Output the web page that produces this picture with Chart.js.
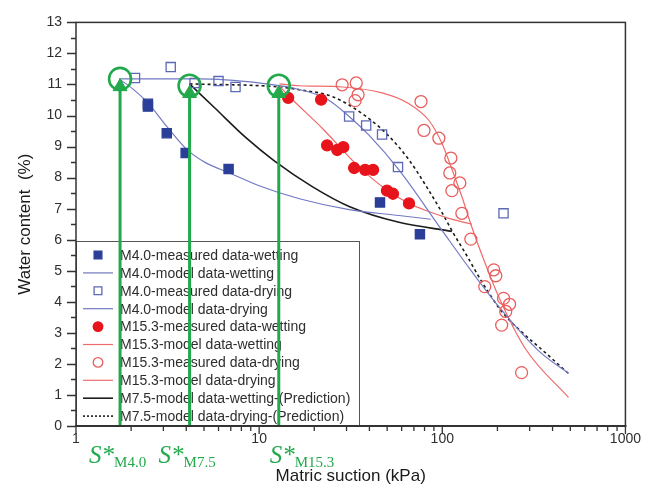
<!DOCTYPE html>
<html>
<head>
<meta charset="utf-8">
<script src="https://cdn.jsdelivr.net/npm/chart.js@4.4.0/dist/chart.umd.min.js"></script>
<style>
    html, body { margin: 0; padding: 0; background: #fff; }
</style>
</head>
<body>
<canvas id="grafica" width="646" height="490"></canvas>
<script>
//-------------------------------------------------DATOS-----------------------------------------------------
const ejeXTicks = [1, 10, 100, 1000]
const ejeYMax = 13

// M4.0 medidos
const m40HumX = [2.47, 2.47, 3.13, 3.97, 6.81, 45.7, 75.5]
const m40HumY = [10.38, 10.29, 9.43, 8.79, 8.28, 7.20, 6.18]
const m40SecX = [2.10, 3.29, 4.44, 6.0, 7.43, 31.0, 38.4, 46.9, 57.3, 216]
const m40SecY = [11.21, 11.56, 11.05, 11.11, 10.92, 9.97, 9.68, 9.39, 8.34, 6.85]
// M4.0 modelo
const m40ModHumX = [1.72, 2.04, 2.47, 3.13, 4.01, 5.04, 6.89, 10, 16.6, 31.0, 58.0, 86.6]
const m40ModHumY = [11.18, 10.86, 10.41, 9.65, 8.92, 8.50, 8.15, 7.74, 7.32, 6.97, 6.78, 6.66]
const m40ModSecX = [1.72, 4.73, 10, 15.2, 23.3, 31.0, 39.9, 58.0, 99.5, 145, 203, 336, 489]
const m40ModSecY = [11.18, 11.18, 11.05, 10.89, 10.54, 9.97, 9.36, 8.25, 6.31, 4.97, 3.85, 2.42, 1.69]

// M15.3 medidos
const m153HumX = [14.4, 21.8, 23.5, 26.7, 28.8, 33.0, 37.9, 41.9, 49.9, 53.8, 65.8]
const m153HumY = [10.57, 10.51, 9.04, 8.89, 8.98, 8.31, 8.25, 8.25, 7.58, 7.48, 7.17]
const m153SecX = [28.4, 33.9, 34.7, 33.4, 76.5, 79.4, 95.8, 111.4, 109.9, 124.7, 112.8, 127.9, 143.2, 191, 196, 170.6, 216, 233, 222, 211, 271]
const m153SecY = [10.99, 11.05, 10.67, 10.48, 10.45, 9.52, 9.27, 8.63, 8.15, 7.83, 7.58, 6.85, 6.02, 5.03, 4.84, 4.49, 4.11, 3.92, 3.69, 3.25, 1.72]
// M15.3 modelo
const m153ModHumX = [12.9, 14.3, 22.1, 35.2, 51.2, 65.8, 81.4, 108.6, 145]
const m153ModHumY = [10.96, 10.67, 9.59, 8.34, 7.55, 7.17, 6.94, 6.69, 6.50]
const m153ModSecX = [12.9, 16.6, 28.4, 46.9, 65.8, 84.6, 99.5, 112.8, 127.9, 143.2, 162.2, 203, 285, 489]
const m153ModSecY = [11.02, 10.96, 10.92, 10.73, 10.38, 9.84, 9.11, 8.28, 7.39, 6.50, 5.61, 4.17, 2.48, 0.92]

// M7.5 prediccion
const m75HumX = [4.17, 5.71, 8.53, 12.1, 19.5, 31.0, 58.0, 112.8]
const m75HumY = [11.02, 10.25, 9.27, 8.54, 7.71, 7.07, 6.56, 6.27]
const m75SecX = [4.17, 12.9, 16.6, 25.1, 38.4, 51.2, 65.8, 81.4, 99.5, 115.7, 134.5, 164.3, 211, 271, 336, 489]
const m75SecY = [11.02, 10.92, 10.83, 10.61, 9.97, 9.33, 8.57, 7.74, 6.88, 6.18, 5.54, 4.65, 3.69, 3.03, 2.55, 1.69]

// S* (flechas verdes)
const sEtiquetas = ['M4.0', 'M7.5', 'M15.3']
const sX = [1.74, 4.17, 12.8]
const sY = [11.18, 10.96, 10.96]
const flechaY = [10.93, 10.71, 10.71]

//-------------------------------------------------ESTILOS-----------------------------------------------------
const azulOscuro = '#2b3f98'
const azulClaro = '#5d68b6'
const azulLinea = '#7279c2'
const rojo = '#e8141c'
const rojoClaro = '#ea5d5d'
const rojoLinea = '#ef6b6b'
const negro = '#1c1c1c'
const verde = '#22a94c'
const gris = '#2e2e2e'

Chart.defaults.font.family = "'Liberation Sans', Arial, sans-serif"

function puntos(xs, ys) {
    return xs.map((x, i) => ({ x: x, y: ys[i] }))
}

function medidos(label, xs, ys, estilo, radio, relleno, borde) {
    return {
        label: label, data: puntos(xs, ys), showLine: false, order: 1, enLeyenda: true,
        pointStyle: estilo, pointRadius: radio, pointBorderWidth: 1.3,
        backgroundColor: relleno, borderColor: borde
    }
}

function modelo(label, xs, ys, color, ancho, guiones) {
    return {
        label: label, data: puntos(xs, ys), showLine: true, order: 2, enLeyenda: true,
        pointRadius: 0, borderColor: color, borderWidth: ancho, borderDash: guiones,
        cubicInterpolationMode: 'monotone', backgroundColor: color
    }
}

let datasets = [
    medidos('M4.0-measured data-wetting', m40HumX, m40HumY, 'rect', 6.5, azulOscuro, azulOscuro),
    modelo('M4.0-model data-wetting', m40ModHumX, m40ModHumY, azulLinea, 1.2, []),
    medidos('M4.0-measured data-drying', m40SecX, m40SecY, 'rect', 6.5, 'rgba(0,0,0,0)', azulClaro),
    modelo('M4.0-model data-drying', m40ModSecX, m40ModSecY, azulLinea, 1.2, []),
    medidos('M15.3-measured data-wetting', m153HumX, m153HumY, 'circle', 5.5, rojo, rojo),
    modelo('M15.3-model data-wetting', m153ModHumX, m153ModHumY, rojoLinea, 1.2, []),
    medidos('M15.3-measured data-drying', m153SecX, m153SecY, 'circle', 6, 'rgba(0,0,0,0)', rojoClaro),
    modelo('M15.3-model data-drying', m153ModSecX, m153ModSecY, rojoLinea, 1.2, []),
    modelo('M7.5-model data-wetting-(Prediction)', m75HumX, m75HumY, negro, 1.6, []),
    modelo('M7.5-model data-drying-(Prediction)', m75SecX, m75SecY, negro, 1.6, [3, 3])
]

// flechas y circulos verdes
sX.forEach((x, i) => {
    datasets.push({
        data: [{ x: x, y: 0 }, { x: x, y: flechaY[i] }], showLine: true, order: 0,
        borderColor: verde, borderWidth: 3, pointStyle: 'triangle',
        pointRadius: [0, 8], pointBackgroundColor: verde, pointBorderColor: verde, pointBorderWidth: 1
    })
})
datasets.push({
    data: puntos(sX, sY), showLine: false, order: 0,
    pointStyle: 'circle', pointRadius: 11, pointBorderWidth: 2.6,
    borderColor: verde, backgroundColor: 'rgba(0,0,0,0)'
})

//-------------------------------------------------LEYENDA-----------------------------------------------------
const leyenda = {
    id: 'leyenda',
    beforeDatasetsDraw(chart) {
        const ctx = chart.ctx
        const a = chart.chartArea
        const top = 241, right = 359
        ctx.save()
        ctx.fillStyle = '#fff'
        ctx.fillRect(a.left, top, right - a.left, a.bottom - top)
        ctx.strokeStyle = '#555'
        ctx.lineWidth = 1
        ctx.strokeRect(a.left + 0.5, top + 0.5, right - a.left, a.bottom - top)
        let fila = 0
        chart.data.datasets.forEach(ds => {
            if (!ds.enLeyenda) return
            const y = 255 + fila * 17.9
            if (ds.showLine) {
                ctx.strokeStyle = ds.borderColor
                ctx.lineWidth = ds.borderWidth
                ctx.setLineDash(ds.borderDash.length ? [2, 2] : [])
                ctx.beginPath()
                ctx.moveTo(83, y)
                ctx.lineTo(113, y)
                ctx.stroke()
                ctx.setLineDash([])
            } else {
                ctx.fillStyle = ds.backgroundColor
                ctx.strokeStyle = ds.borderColor
                ctx.lineWidth = ds.pointBorderWidth
                Chart.helpers.drawPoint(ctx, {
                    pointStyle: ds.pointStyle, rotation: 0,
                    radius: ds.pointStyle === 'rect' ? 5.5 : 4.8, borderWidth: ds.pointBorderWidth
                }, 98, y)
            }
            ctx.fillStyle = gris
            ctx.font = "14px 'Liberation Sans', Arial, sans-serif"
            ctx.textAlign = 'left'
            ctx.textBaseline = 'middle'
            ctx.fillText(ds.label, 120, y + 1)
            fila++
        })
        ctx.restore()
    }
}

//-------------------------------------------------EJES-----------------------------------------------------
const ejes = {
    id: 'ejes',
    afterDraw(chart) {
        const ctx = chart.ctx
        const a = chart.chartArea
        const ex = chart.scales.x
        const ey = chart.scales.y
        ctx.save()
        ctx.strokeStyle = '#333'
        ctx.lineWidth = 1.5
        ctx.strokeRect(a.left, a.top, a.right - a.left, a.bottom - a.top)
        ctx.lineWidth = 2.2
        ctx.beginPath()
        ctx.moveTo(a.left - 1, a.bottom)
        ctx.lineTo(a.right + 1, a.bottom)
        ctx.stroke()

        // marcas eje y
        ctx.lineWidth = 1.3
        ctx.beginPath()
        for (let v = 0; v <= ejeYMax; v += 0.5) {
            const py = Math.round(ey.getPixelForValue(v)) + 0.5
            const largo = v % 1 === 0 ? 9 : 5
            ctx.moveTo(a.left - largo, py)
            ctx.lineTo(a.left, py)
        }
        // marcas eje x
        for (let d = 1; d < 1000; d *= 10) {
            for (let k = 1; k <= 9; k++) {
                const px = ex.getPixelForValue(k * d)
                const largo = k === 1 ? 8 : 5
                ctx.moveTo(px, a.bottom)
                ctx.lineTo(px, a.bottom + largo)
            }
        }
        ctx.moveTo(ex.getPixelForValue(1000), a.bottom)
        ctx.lineTo(ex.getPixelForValue(1000), a.bottom + 8)
        ctx.stroke()

        // titulos
        ctx.fillStyle = '#1a1a1a'
        ctx.font = "17px 'Liberation Sans', Arial, sans-serif"
        ctx.textAlign = 'center'
        ctx.textBaseline = 'middle'
        ctx.fillText('Matric suction (kPa)', (a.left + a.right) / 2, 476)
        ctx.save()
        ctx.translate(25, (a.top + a.bottom) / 2)
        ctx.rotate(-Math.PI / 2)
        ctx.fillText('Water content  (%)', 0, 0)
        ctx.restore()

        // etiquetas S*
        const desplaza = [-31, -31, -9]
        ctx.fillStyle = verde
        ctx.textAlign = 'left'
        ctx.textBaseline = 'alphabetic'
        sEtiquetas.forEach((t, i) => {
            const x0 = ex.getPixelForValue(sX[i]) + desplaza[i]
            ctx.font = "italic 25px 'Liberation Serif', 'DejaVu Serif', serif"
            ctx.fillText('S*', x0, 463)
            const w = ctx.measureText('S*').width
            ctx.font = "15px 'Liberation Serif', 'DejaVu Serif', serif"
            ctx.fillText(t, x0 + w, 467)
        })
        ctx.restore()
    }
}

//-------------------------------------------------GRÁFICA-----------------------------------------------------
const canvas = document.getElementById('grafica')
const ctx = canvas.getContext('2d')

const config = {
    type: 'scatter',
    data: { datasets: datasets },
    options: {
        responsive: false,
        animation: false,
        layout: { padding: { left: 0, right: 19, top: 17, bottom: 0 } },
        plugins: { legend: { display: false }, tooltip: { enabled: false } },
        scales: {
            x: {
                type: 'logarithmic', min: 1, max: 1000,
                afterFit: s => { s.height = 64 },
                afterBuildTicks: s => { s.ticks = ejeXTicks.map(v => ({ value: v })) },
                grid: { display: false, drawTicks: false },
                border: { display: false },
                ticks: {
                    autoSkip: false, maxRotation: 0, padding: 5, color: gris,
                    font: { size: 14 }, callback: v => String(v)
                }
            },
            y: {
                min: 0, max: ejeYMax,
                afterFit: s => { s.width = 76 },
                grid: { display: false, drawTicks: false },
                border: { display: false },
                ticks: { stepSize: 1, padding: 14, color: gris, font: { size: 14 } }
            }
        }
    },
    plugins: [leyenda, ejes]
}

const chart = new Chart(ctx, config)
</script>
</body>
</html>
